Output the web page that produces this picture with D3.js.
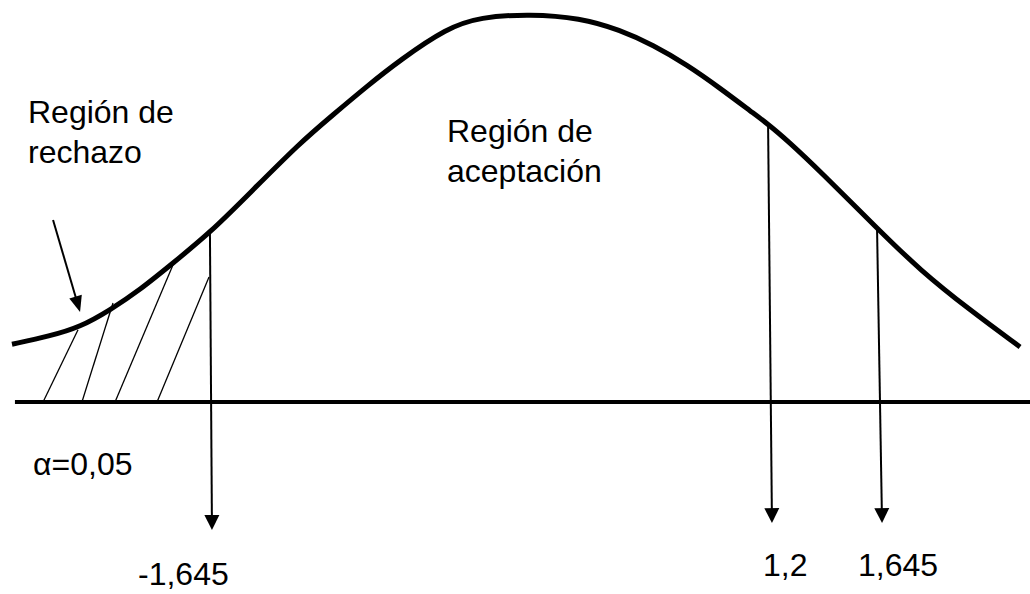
<!DOCTYPE html>
<html>
<head>
<meta charset="utf-8">
<script src="https://cdn.jsdelivr.net/npm/d3@7"></script>
<style>
  html, body { margin: 0; padding: 0; background: #fff; }
  svg { display: block; }
  text { font-family: "Liberation Sans", Arial, sans-serif; fill: #000; }
</style>
</head>
<body>
<svg id="chart" width="1030" height="594"></svg>
<script>
// ---- Data (z = position along the drawn axis, d = relative curve height) ----
const curveZ = [-2.719,-2.514,-2.351,-2.189,-2.027,-1.849,-1.649,-1.432,-1.162,-0.984,-0.800,-0.622,-0.368,-0.189,0.081,0.351,0.568,0.746,0.930,1.108,1.286,1.368,1.470,1.649,1.957,2.189,2.459,2.730];
const curveD = [0.149,0.170,0.193,0.237,0.289,0.358,0.436,0.539,0.668,0.740,0.814,0.881,0.964,0.992,1.000,0.990,0.959,0.920,0.869,0.809,0.745,0.716,0.675,0.595,0.448,0.340,0.237,0.142];

const markerLabels = ["-1,645", "1,2", "1,645"];
const markerZ      = [-1.649, 1.368, 1.957];
const markerTipZ   = [-1.638, 1.389, 1.984];
const markerEndD   = [-0.330, -0.312, -0.312];

const hatchBottomZ = [-2.551, -2.341, -2.162, -1.935];
const hatchTopZ    = [-2.362, -2.173, -1.849, -1.654];
const hatchTopD    = [0.186, 0.255, 0.353, 0.322];

const pointerZ = [-2.497, -2.351];
const pointerD = [0.469, 0.232];

const axisZ = [-2.703, 2.80];

const alphaLabel = "α=0,05";
const rejectLabel = ["Región de", "rechazo"];
const acceptLabel = ["Región de", "aceptación"];

// ---- Scales ----
const svg = d3.select("#chart");
const x = d3.scaleLinear().domain([-2.8, 2.8]).range([-3, 1033]);
const y = d3.scaleLinear().domain([0, 1]).range([402, 14]);

const pts = curveZ.map((z, i) => [z, curveD[i]]);
function curveAt(z) {
  for (let i = 0; i < pts.length - 1; i++) {
    if (z >= pts[i][0] && z <= pts[i + 1][0]) {
      const t = (z - pts[i][0]) / (pts[i + 1][0] - pts[i][0]);
      return pts[i][1] + t * (pts[i + 1][1] - pts[i][1]);
    }
  }
  return 0;
}

// baseline
svg.append("line")
  .attr("x1", x(axisZ[0])).attr("x2", x(axisZ[1]))
  .attr("y1", y(0)).attr("y2", y(0))
  .attr("stroke", "#000").attr("stroke-width", 4);

// bell curve
const line = d3.line().x(d => x(d[0])).y(d => y(d[1])).curve(d3.curveBasis);
svg.append("path").datum(pts)
  .attr("d", line)
  .attr("fill", "none").attr("stroke", "#000").attr("stroke-width", 5);

// hatching
svg.selectAll("line.hatch").data(hatchBottomZ).join("line")
  .attr("class", "hatch")
  .attr("x1", d => x(d)).attr("y1", y(0))
  .attr("x2", (d, i) => x(hatchTopZ[i])).attr("y2", (d, i) => y(hatchTopD[i]))
  .attr("stroke", "#000").attr("stroke-width", 1.3);

function arrowHead(tx, ty, ux, uy, len, half) {
  const bx = tx - ux * len, by = ty - uy * len;
  const px = -uy, py = ux;
  return `M${tx},${ty}L${bx + px * half},${by + py * half}L${bx - px * half},${by - py * half}Z`;
}

// vertical marker arrows
markerZ.forEach((z, i) => {
  const x1 = x(z), y1 = y(curveAt(z));
  const x2 = x(markerTipZ[i]), y2 = y(markerEndD[i]);
  const L = Math.hypot(x2 - x1, y2 - y1);
  const ux = (x2 - x1) / L, uy = (y2 - y1) / L;
  svg.append("line")
    .attr("x1", x1).attr("y1", y1)
    .attr("x2", x2 - ux * 12).attr("y2", y2 - uy * 12)
    .attr("stroke", "#000").attr("stroke-width", 2);
  svg.append("path").attr("d", arrowHead(x2, y2, ux, uy, 15, 7.5)).attr("fill", "#000");
});

// marker labels
const labelStartX = [138, 763, 858];
const labelBaseY = [585, 576, 576];
svg.selectAll("text.mk").data(markerLabels).join("text")
  .attr("class", "mk")
  .attr("x", (d, i) => labelStartX[i]).attr("y", (d, i) => labelBaseY[i])
  .attr("font-size", 32)
  .text(d => d);

// pointer arrow
{
  const x1 = x(pointerZ[0]), y1 = y(pointerD[0]);
  const x2 = x(pointerZ[1]), y2 = y(pointerD[1]);
  const L = Math.hypot(x2 - x1, y2 - y1);
  const ux = (x2 - x1) / L, uy = (y2 - y1) / L;
  svg.append("line")
    .attr("x1", x1).attr("y1", y1)
    .attr("x2", x2 - ux * 12).attr("y2", y2 - uy * 12)
    .attr("stroke", "#000").attr("stroke-width", 2);
  svg.append("path").attr("d", arrowHead(x2, y2, ux, uy, 16, 6.5)).attr("fill", "#000");
}

// texts
svg.selectAll("text.rej").data(rejectLabel).join("text")
  .attr("class", "rej")
  .attr("x", 28).attr("y", (d, i) => 123 + i * 40)
  .attr("font-size", 32).text(d => d);

svg.selectAll("text.acc").data(acceptLabel).join("text")
  .attr("class", "acc")
  .attr("x", 447).attr("y", (d, i) => 142 + i * 40)
  .attr("font-size", 32).text(d => d);

svg.append("text")
  .attr("x", 33).attr("y", 475)
  .attr("font-size", 32).text(alphaLabel);
</script>
</body>
</html>
